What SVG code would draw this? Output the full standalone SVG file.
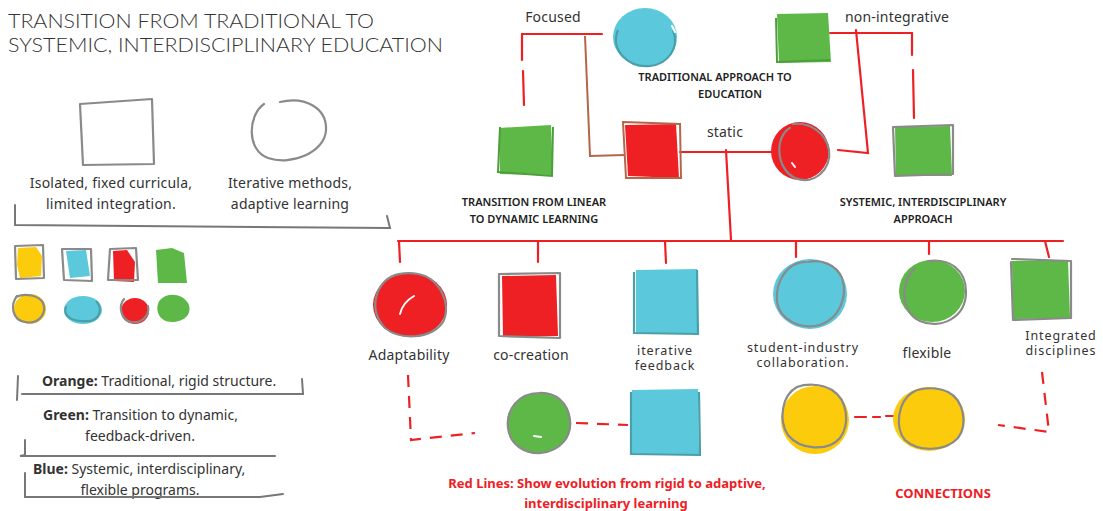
<svg xmlns="http://www.w3.org/2000/svg" width="1103" height="511" viewBox="0 0 1103 511">
<style>
.t{font-family:"Noto Sans","Liberation Sans",sans-serif;fill:#333;font-size:14px;letter-spacing:0.2px}
.t2{font-family:"Noto Sans","Liberation Sans",sans-serif;fill:#333;font-size:12.5px;letter-spacing:0.9px}
.lg{font-family:"Noto Sans","Liberation Sans",sans-serif;fill:#333;font-size:14px}
.b{font-family:"Noto Sans","Liberation Sans",sans-serif;fill:#222;font-size:11px;font-weight:600}
.ttl{font-family:Lato,"Noto Sans",sans-serif;fill:#333;font-size:19.5px;font-weight:300}
.rt{font-family:"Noto Sans","Liberation Sans",sans-serif;fill:#EE2024;font-size:13px;font-weight:700}
.ol{fill:none;stroke:#8a8a8a;stroke-width:2.2;stroke-linecap:round;stroke-linejoin:round}
.br{fill:none;stroke:#777;stroke-width:2;stroke-linecap:round}
.rl{fill:none;stroke:#EE2024;stroke-width:2.2;stroke-linecap:round}
.rd{fill:none;stroke:#EE2024;stroke-width:2.2;stroke-dasharray:12 9}
.bn{fill:none;stroke:#B5654A;stroke-width:2}
.cy{fill:#5BC8DC}.rd2{fill:#EE2024}.gr{fill:#5DB847}.ye{fill:#FCCB0B}
.cyo{fill:none;stroke:#4A9FA8;stroke-width:2.2}
.gro{fill:none;stroke:#4E9E3C;stroke-width:2}
.hl{fill:none;stroke:#fff;stroke-width:2;stroke-linecap:round}
</style>

<g id="title">
<text class="ttl" x="8" y="28" textLength="366" lengthAdjust="spacingAndGlyphs">TRANSITION FROM TRADITIONAL TO</text>
<text class="ttl" x="8" y="52" textLength="435" lengthAdjust="spacingAndGlyphs">SYSTEMIC, INTERDISCIPLINARY EDUCATION</text>
</g>

<g id="legend-shapes">
<path class="ol" d="M80,104 L152,99 L154,164 L83,165 Z"/>
<path class="ol" d="M264,104 C248,115 246,150 268,158 C292,166 325,152 326,130 C327,108 305,96 280,102"/>
<text class="t" x="111" y="188" text-anchor="middle">Isolated, fixed curricula,</text>
<text class="t" x="111" y="209" text-anchor="middle">limited integration.</text>
<text class="t" x="290" y="188" text-anchor="middle">Iterative methods,</text>
<text class="t" x="290" y="209" text-anchor="middle">adaptive learning</text>
<path class="br" d="M15,205 L15,225 L390,228 L387,216"/>
</g>

<g id="legend-swatches">
<path class="ye" d="M18,248 L36,247 L42,256 L41,276 L20,278 L17,265 Z"/>
<path class="ol" d="M15,246 L43,245 L44,278 L16,279 Z"/>
<path class="cy" d="M66,251 L86,250 L90,276 L70,278 Z"/>
<path class="ol" d="M62,249 L91,249 L92,281 L64,280 Z"/>
<path class="rd2" d="M113,251 L127,250 L135,262 L134,282 L114,281 Z"/>
<path class="ol" d="M110,249 L136,248 L138,280 L108,280 Z"/>
<path class="gr" d="M156,250 L172,248 L184,253 L187,283 L158,283 Z"/>
<ellipse class="ye" cx="30" cy="309" rx="16" ry="15"/>
<path class="ol" d="M17,296 C10,305 12,320 25,322 C40,325 47,312 43,303 C39,295 25,293 16,297"/>
<ellipse class="cy" cx="83" cy="310" rx="19" ry="14"/>
<path class="cyo" d="M66,306 C62,318 74,322 90,321 C100,319 103,308 96,301"/>
<ellipse class="rd2" cx="135" cy="311" rx="14" ry="13"/>
<path class="ol" d="M124,299 C118,306 121,320 131,322 C141,324 150,316 148,306"/>
<path class="gr" d="M160,300 C167,292 182,293 188,303 C193,313 185,322 172,322 C158,322 154,308 160,300 Z"/>
</g>

<g id="legend-text">
<text class="lg" x="42" y="386"><tspan font-weight="700">Orange:</tspan> Traditional, rigid structure.</text>
<path class="br" d="M18,376 L17,400 M22,394 L303,394 L302,379"/>
<text class="lg" x="43" y="420"><tspan font-weight="700">Green:</tspan> Transition to dynamic,</text>
<text class="lg" x="140" y="441" text-anchor="middle">feedback-driven.</text>
<path class="br" d="M25,440 L25,455 L20,456 L275,456"/>
<text class="lg" x="33" y="474"><tspan font-weight="700">Blue:</tspan> Systemic, interdisciplinary,</text>
<text class="lg" x="140" y="495" text-anchor="middle">flexible programs.</text>
<path class="br" d="M25,473 L25,497 L260,497 L283,494"/>
</g>

<g id="connectors">
<path class="rl" d="M522,34 L602,34"/>
<path class="rl" d="M522,34 L522,60"/>
<path class="rl" d="M523,71 L524,105"/>
<path class="bn" d="M585,36 L590,156 L625,155"/>
<path class="rl" d="M680,152 L775,152"/>
<path class="rl" d="M726,150 L731,240"/>
<path class="rl" d="M830,33 L912,33"/>
<path class="rl" d="M856,30 L868,153 L838,150"/>
<path class="rl" d="M912,33 L912,55"/>
<path class="rl" d="M913,70 L914,118"/>
<path class="rl" d="M398,241 L1063,241"/>
<path class="rl" d="M399,241 L400,262 M538,241 L538,262 M665,241 L666,263 M796,241 L796,257 M929,241 L929,254 M1045,241 L1049,257"/>
<path class="rd" d="M408,375 L411,440 L475,433"/>
<path class="rd" d="M576,423 L628,425"/>
<path class="rl" d="M855,417 L866,417 M873,417 L880,417 M886,416 L895,416"/>
<path class="rd" d="M1042,372 L1049,432 L998,425"/>
</g>

<g id="n-focused-circle">
<ellipse class="cy" cx="645" cy="37" rx="32" ry="29"/>
<path class="cyo" d="M618,30 C610,50 628,68 650,66 C668,64 680,48 673,30"/>
<path class="hl" d="M672,26 L675,32"/>
<text class="t" x="553" y="22" text-anchor="middle">Focused</text>
</g>

<g id="n-traditional">
<path class="gr" d="M777,14 L828,13 L831,62 L779,63 Z"/>
<path class="gro" d="M776,18 L777,62 L830,60"/>
<text class="t" x="897" y="22" text-anchor="middle">non-integrative</text>
<text class="b" x="715" y="81" text-anchor="middle">TRADITIONAL APPROACH TO</text>
<text class="b" x="730" y="98" text-anchor="middle">EDUCATION</text>
</g>

<g id="n-linear">
<path class="gr" d="M499,128 L551,125 L553,175 L500,174 Z"/>
<path class="gro" d="M500,127 L498,172 L552,176 L553,127"/>
<text class="b" x="534" y="206" text-anchor="middle">TRANSITION FROM LINEAR</text>
<text class="b" x="534" y="223" text-anchor="middle">TO DYNAMIC LEARNING</text>
</g>

<g id="n-static-square">
<path class="rd2" d="M625,125 L676,124 L679,178 L628,176 Z"/>
<path class="bn" d="M623,122 L680,124 L681,178 L626,178 Z"/>
<text class="t" x="725" y="137" text-anchor="middle">static</text>
</g>

<g id="n-static-circle">
<ellipse class="rd2" cx="800" cy="151" rx="29" ry="29"/>
<path class="ol" d="M790,128 C775,136 775,168 795,178 C815,186 832,168 829,150 C826,133 810,122 793,124"/>
<path class="hl" d="M792,163 L795,167"/>
</g>

<g id="n-systemic">
<path class="gr" d="M895,127 L950,126 L952,176 L896,176 Z"/>
<path class="ol" d="M893,127 L953,125 L953,174 L895,176 Z"/>
<text class="b" x="923" y="206" text-anchor="middle">SYSTEMIC, INTERDISCIPLINARY</text>
<text class="b" x="923" y="223" text-anchor="middle">APPROACH</text>
</g>

<g id="n-adaptability">
<ellipse class="rd2" cx="410" cy="305" rx="37" ry="32"/>
<path class="ol" d="M395,275 C375,282 368,310 385,328 C400,340 430,340 443,322 C452,305 440,278 418,274 C408,272 398,274 395,275"/>
<path class="hl" d="M400,314 C402,305 407,300 414,296" stroke-width="3"/>
<text class="t" x="409" y="360" text-anchor="middle">Adaptability</text>
</g>

<g id="n-cocreation">
<path class="rd2" d="M502,276 L556,275 L558,336 L503,337 Z"/>
<path class="ol" d="M499,274 L560,273 L560,338 L499,336 Z"/>
<text class="t" x="531" y="360" text-anchor="middle">co-creation</text>
</g>

<g id="n-iterative">
<path class="cy" d="M636,270 L697,269 L697,333 L636,334 Z"/>
<path class="cyo" d="M634,272 L634,333 L698,334 L697,270"/>
<text class="t2" x="665" y="355" text-anchor="middle">iterative</text>
<text class="t2" x="665" y="370" text-anchor="middle">feedback</text>
</g>

<g id="n-collab">
<ellipse class="cy" cx="810" cy="294" rx="37" ry="35"/>
<path class="ol" d="M806,262 C787,262 775,282 777,302 C780,320 800,330 820,325 C840,318 848,296 842,278 C836,264 820,259 808,262"/>
<text class="t2" x="803" y="352" text-anchor="middle">student-industry</text>
<text class="t2" x="803" y="367" text-anchor="middle">collaboration.</text>
</g>

<g id="n-flexible">
<ellipse class="gr" cx="932" cy="291" rx="33" ry="31"/>
<path class="ol" d="M915,268 C900,282 900,312 920,321 C940,330 966,318 966,292 C966,270 950,258 928,261"/>
<text class="t" x="927" y="358" text-anchor="middle">flexible</text>
</g>

<g id="n-integrated">
<path class="gr" d="M1012,261 L1068,260 L1070,318 L1013,319 Z"/>
<path class="ol" d="M1012,259 L1071,261 L1071,318 L1013,320 L1011,262"/>
<text class="t2" x="1061" y="340" text-anchor="middle">Integrated</text>
<text class="t2" x="1061" y="355" text-anchor="middle">disciplines</text>
</g>

<g id="n-green-circle">
<ellipse class="gr" cx="539" cy="423" rx="32" ry="30"/>
<path class="ol" d="M539,393 C518,393 506,410 508,428 C510,445 525,454 541,453 C560,451 572,437 570,420 C568,402 555,392 539,393"/>
<path class="hl" d="M534,436 L541,437"/>
</g>

<g id="n-cyan-square">
<path class="cy" d="M632,390 L698,389 L699,455 L632,454 Z"/>
<path class="cyo" d="M631,392 L631,454 L700,455 L699,392"/>
</g>

<g id="n-yellow1">
<ellipse class="ye" cx="815" cy="420" rx="34" ry="34"/>
<path class="ol" d="M797,387 C782,395 778,420 788,435 C800,450 828,452 840,438 C850,424 848,400 832,390 C820,383 805,384 797,387"/>
</g>

<g id="n-yellow2">
<ellipse class="ye" cx="929" cy="419" rx="36" ry="32"/>
<path class="ol" d="M913,392 C897,402 895,428 905,440 C918,452 945,452 958,438 C968,425 964,400 948,392 C938,387 922,387 913,392"/>
</g>

<g id="captions">
<text class="rt" x="607" y="488" text-anchor="middle">Red Lines: Show evolution from rigid to adaptive,</text>
<text class="rt" x="606" y="508" text-anchor="middle">interdisciplinary learning</text>
<text class="rt" x="943" y="498" text-anchor="middle">CONNECTIONS</text>
</g>
</svg>
